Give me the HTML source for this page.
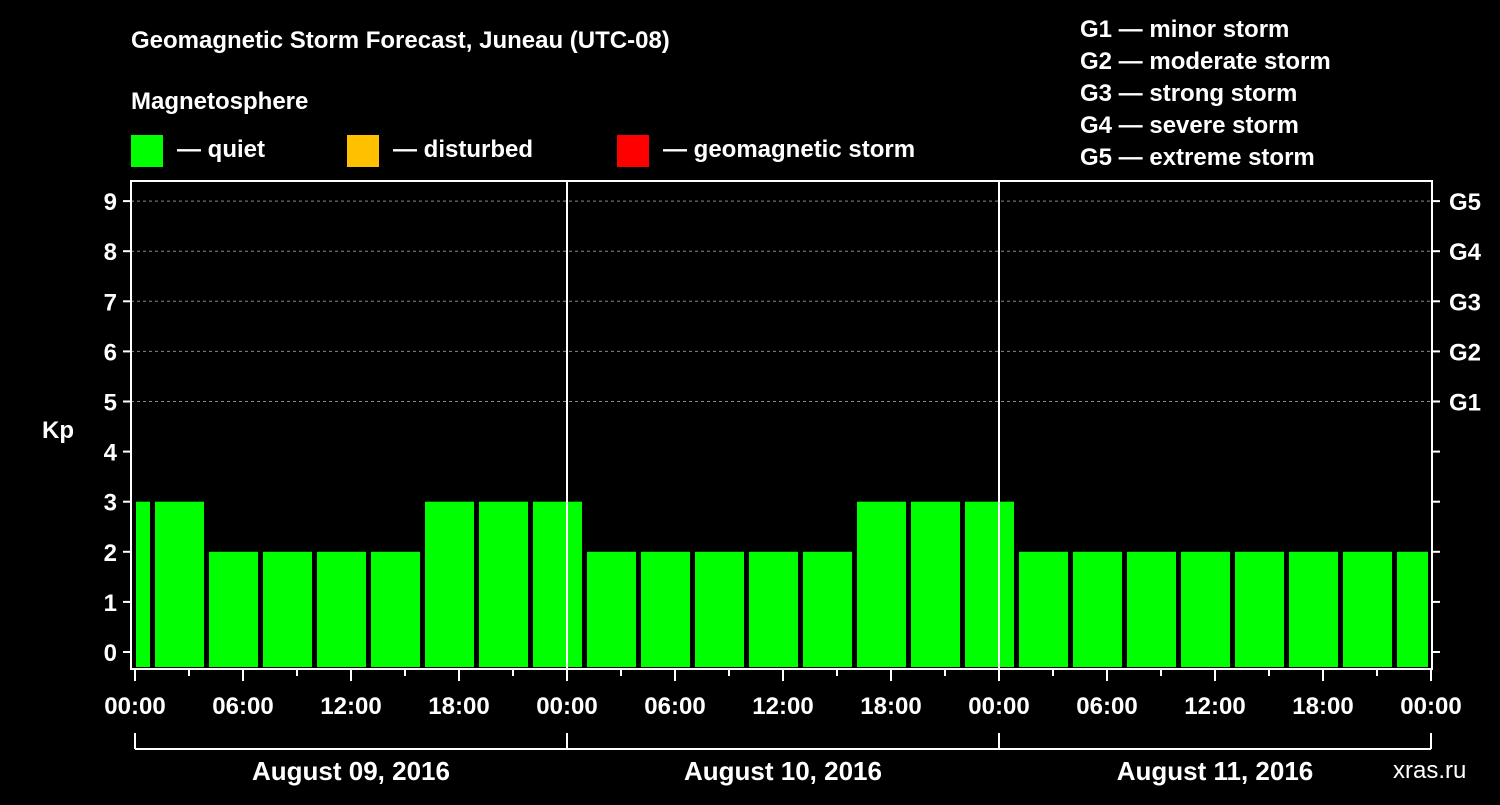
<!DOCTYPE html>
<html><head><meta charset="utf-8"><style>
body{margin:0;background:#000;width:1500px;height:800px;overflow:hidden;font-family:"Liberation Sans",sans-serif}
svg text{font-family:"Liberation Sans",sans-serif;font-weight:bold;fill:#fff}
</style></head><body>
<svg id="chart" width="1500" height="800">
<text x="131" y="48" font-size="24">Geomagnetic Storm Forecast, Juneau (UTC-08)</text>
<text x="131" y="109" font-size="24">Magnetosphere</text>
<rect x="131" y="135" width="32" height="32" fill="#00ff00"/>
<text x="177" y="157" font-size="24">— quiet</text>
<rect x="347" y="135" width="32" height="32" fill="#ffc000"/>
<text x="393" y="157" font-size="24">— disturbed</text>
<rect x="617" y="135" width="32" height="32" fill="#ff0000"/>
<text x="663" y="157" font-size="24">— geomagnetic storm</text>
<g>
<text x="1080" y="37" font-size="24">G1 — minor storm</text>
<text x="1080" y="69" font-size="24">G2 — moderate storm</text>
<text x="1080" y="101" font-size="24">G3 — strong storm</text>
<text x="1080" y="133" font-size="24">G4 — severe storm</text>
<text x="1080" y="165" font-size="24">G5 — extreme storm</text>
</g>
<text x="42" y="438" font-size="24">Kp</text>
<text x="1393" y="778" font-size="24" fill="#fff" style="font-weight:normal">xras.ru</text>
<g id="plot"></g>
</svg>
<script>
const kpValues=[3,3,2,2,2,2,3,3,3,2,2,2,2,2,3,3,3,2,2,2,2,2,2,2,2];
const yTicks=[0,1,2,3,4,5,6,7,8,9];
const gLabels=["G1","G2","G3","G4","G5"];
const dayLabels=["August 09, 2016","August 10, 2016","August 11, 2016"];
const hourLabels=["00:00","06:00","12:00","18:00"];
const firstBarHour=-2;
const NS="http://www.w3.org/2000/svg";
const g=document.getElementById('plot');
const L=131,R=1432,T=181,B=669,X0=135,dayW=432;
const xs=h=>X0+h*dayW/24;
const ys=v=>652-v*50.1;
function mk(t,a){const e=document.createElementNS(NS,t);for(const k in a)e.setAttribute(k,a[k]);g.appendChild(e);return e;}
// gridlines
for(let v=5;v<=9;v++){const e=mk('line',{x1:L,x2:R,y1:ys(v),y2:ys(v),stroke:'#888','stroke-dasharray':'3,3'});

}
// bars
kpValues.forEach((v,i)=>{let x1=xs(firstBarHour+3*i)+2,x2=xs(firstBarHour+3*i+3)-3;x1=Math.max(x1,X0+1);x2=Math.min(x2,xs(72)-3);
const c=v>=5?'#ff0000':(v>=4?'#ffc000':'#00ff00');
const e=mk('rect',{x:x1,y:ys(v),width:x2-x1,height:667-ys(v),fill:c});

});
// day separators
for(let d=1;d<3;d++){const e=mk('line',{x1:xs(24*d),x2:xs(24*d),y1:T,y2:B,stroke:'#fff','stroke-width':2});

}
// frame
const f=mk('rect',{x:L,y:T,width:R-L,height:B-T,fill:'none',stroke:'#fff','stroke-width':2});


// y ticks
yTicks.forEach(v=>{mk('line',{x1:L-8,x2:L,y1:ys(v),y2:ys(v),stroke:'#fff','stroke-width':2});
mk('line',{x1:R,x2:R+8,y1:ys(v),y2:ys(v),stroke:'#fff','stroke-width':2});
const t=mk('text',{x:L-14,y:ys(v)+9,'font-size':24,'text-anchor':'end'});t.textContent=v;

});
gLabels.forEach((s,i)=>{const t=mk('text',{x:R+17,y:ys(5+i)+9,'font-size':24});t.textContent=s;

});
// x ticks
for(let h=0;h<=72;h+=3){const maj=h%6==0;mk('line',{x1:xs(h),x2:xs(h),y1:B,y2:B+(maj?12:7),stroke:'#fff','stroke-width':2});
if(maj&&(h%24==0||h%6==0)){const t=mk('text',{x:xs(h),y:714,'font-size':24,'text-anchor':'middle'});t.textContent=hourLabels[(h%24)/6];

}}
// day bracket
mk('line',{x1:xs(0),x2:xs(72),y1:749,y2:749,stroke:'#fff','stroke-width':2});
for(let d=0;d<=3;d++)mk('line',{x1:xs(24*d),x2:xs(24*d),y1:733,y2:749,stroke:'#fff','stroke-width':2});
dayLabels.forEach((s,i)=>{const t=mk('text',{x:xs(24*i+12),y:780,'font-size':26,'text-anchor':'middle'});t.textContent=s;

});
</script>
</body></html>
